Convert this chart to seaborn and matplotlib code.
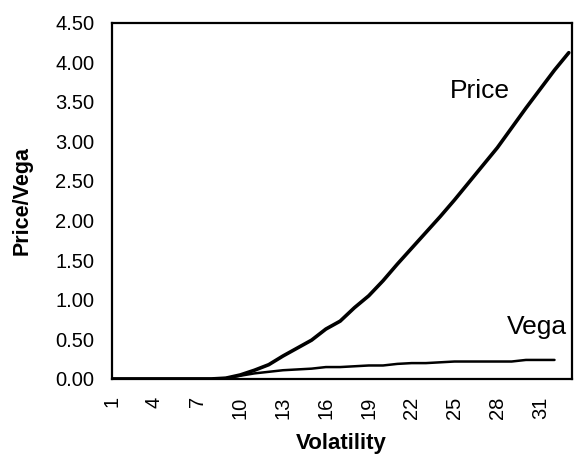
import pandas as pd
import numpy as np
import matplotlib.pyplot as plt
import seaborn as sns

volatility = list(range(1, 34))
price = [0.00, 0.00, 0.00, 0.00, 0.00, 0.00, 0.00, 0.00, 0.01, 0.05,
         0.11, 0.18, 0.29, 0.39, 0.49, 0.63, 0.73, 0.90, 1.05, 1.24,
         1.45, 1.65, 1.85, 2.05, 2.26, 2.48, 2.70, 2.92, 3.17, 3.42,
         3.66, 3.90, 4.12]
vega = [0.00, 0.00, 0.00, 0.00, 0.00, 0.00, 0.00, 0.00, 0.01, 0.04,
        0.07, 0.09, 0.11, 0.12, 0.13, 0.15, 0.15, 0.16, 0.17, 0.17,
        0.19, 0.20, 0.20, 0.21, 0.22, 0.22, 0.22, 0.22, 0.22, 0.24,
        0.24, 0.24]
tick_labels = [str(v) for v in volatility]

df_price = pd.DataFrame({'Volatility': volatility, 'value': price})
df_vega = pd.DataFrame({'Volatility': volatility[:len(vega)], 'value': vega})

sns.set_style("white")
plt.rcParams['font.family'] = ['Liberation Sans', 'DejaVu Sans']
plt.rcParams.update({
    'axes.linewidth': 1.6,
    'text.color': 'black',
    'axes.labelcolor': 'black',
    'xtick.color': 'black',
    'ytick.color': 'black',
    'axes.edgecolor': 'black',
})

fig = plt.figure(figsize=(5.78, 4.61), dpi=100)
ax = fig.add_axes([0.193, 0.178, 0.796, 0.773])

sns.lineplot(data=df_price, x='Volatility', y='value', color='black', linewidth=2.6, ax=ax)
sns.lineplot(data=df_vega, x='Volatility', y='value', color='black', linewidth=1.8, ax=ax)

ax.set_xlim(1, 33.2)
ax.set_ylim(0, 4.5)
ax.set_xticks(volatility)
ax.set_xticklabels([t if (int(t) - 1) % 3 == 0 else '' for t in tick_labels],
                   rotation=90, fontsize=14.5)
ax.set_yticks(np.arange(0, 4.51, 0.5))
ax.set_yticklabels([f'{v:.2f}' for v in np.arange(0, 4.51, 0.5)], fontsize=14.5)
ax.tick_params(axis='both', direction='inout', length=9, width=1.3,
               color='black', labelcolor='black')
ax.tick_params(axis='x', pad=8)
ax.tick_params(axis='y', pad=8)
for s in ax.spines.values():
    s.set_color('black')
    s.set_visible(True)

ax.set_xlabel('Volatility', fontsize=16, fontweight='bold', labelpad=10, color='black')
ax.set_ylabel('Price/Vega', fontsize=15.5, fontweight='bold', labelpad=16, color='black')

ax.text(26.8, 3.64, 'Price', fontsize=19, ha='center', va='center', color='black')
ax.text(30.8, 0.66, 'Vega', fontsize=19, ha='center', va='center', color='black')

fig.savefig('out.png', dpi=100, facecolor='white')
